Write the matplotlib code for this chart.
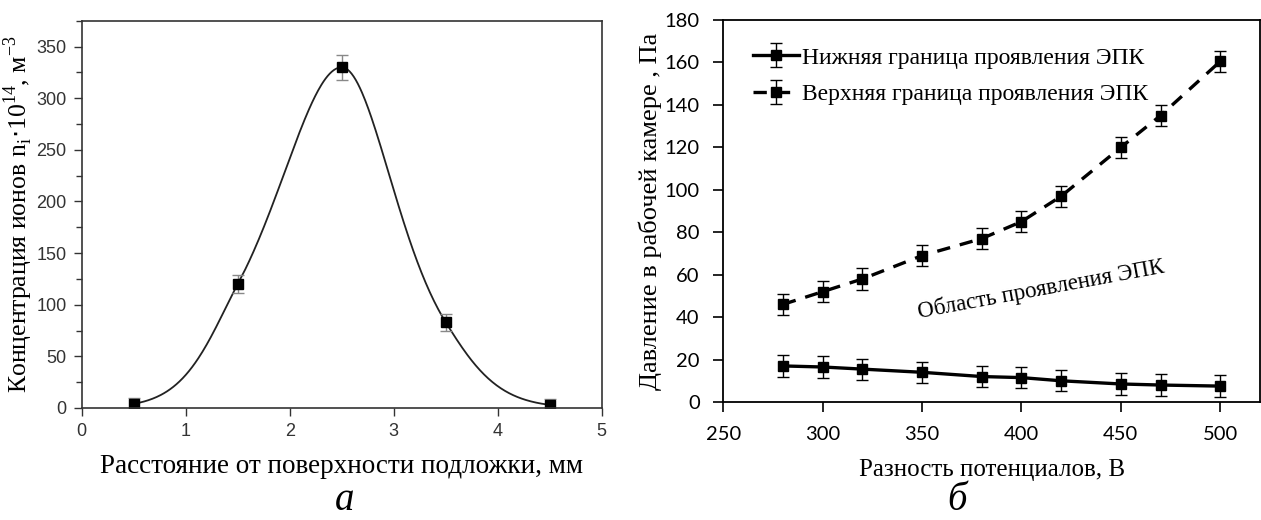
import numpy as np
import matplotlib.pyplot as plt

# (а) ion concentration vs distance from substrate surface
dist = [0.5, 1.5, 2.5, 3.5, 4.5]
conc = [4, 120, 330, 83, 3]
conc_err = [6, 9, 12, 8, 6]

# (б) pressure bounds vs potential difference
volt = [280, 300, 320, 350, 380, 400, 420, 450, 470, 500]
p_low = [17, 16.5, 15.5, 14, 12, 11.5, 10, 8.5, 8, 7.5]
p_high = [46, 52, 58, 69, 77, 85, 97, 120, 135, 160.5]
p_err = [5] * len(volt)

serif = ['Liberation Serif', 'DejaVu Serif']


def pchip(x, y, xs):
    # shape-preserving piecewise cubic Hermite curve through (x, y)
    x = np.asarray(x, float)
    y = np.asarray(y, float)
    h = np.diff(x)
    delta = np.diff(y) / h
    n = len(x)
    d = np.zeros(n)
    for k in range(1, n - 1):
        if delta[k - 1] * delta[k] > 0:
            w1 = 2 * h[k] + h[k - 1]
            w2 = h[k] + 2 * h[k - 1]
            d[k] = (w1 + w2) / (w1 / delta[k - 1] + w2 / delta[k])

    def end(h0, h1, d0, d1):
        v = ((2 * h0 + h1) * d0 - h0 * d1) / (h0 + h1)
        if np.sign(v) != np.sign(d0):
            return 0.0
        if np.sign(d0) != np.sign(d1) and abs(v) > abs(3 * d0):
            return 3 * d0
        return v

    d[0] = end(h[0], h[1], delta[0], delta[1])
    d[-1] = end(h[-1], h[-2], delta[-1], delta[-2])
    idx = np.clip(np.searchsorted(x, xs) - 1, 0, n - 2)
    t = (xs - x[idx]) / h[idx]
    hk = h[idx]
    h00 = 2 * t ** 3 - 3 * t ** 2 + 1
    h10 = t ** 3 - 2 * t ** 2 + t
    h01 = -2 * t ** 3 + 3 * t ** 2
    h11 = t ** 3 - t ** 2
    return h00 * y[idx] + h10 * hk * d[idx] + h01 * y[idx + 1] + h11 * hk * d[idx + 1]


fig = plt.figure(figsize=(12.61, 5.2), dpi=100)

# ---- left panel ----
ax1 = fig.add_axes([0.0648, 0.2154, 0.4124, 0.7446])
xs = np.linspace(dist[0], dist[-1], 400)
ax1.plot(xs, np.exp(pchip(dist, np.log(conc), xs)), color='#222222', lw=1.3)
ax1.errorbar(dist, conc, yerr=conc_err, fmt='s', color='black', ms=6.5,
             ecolor='#888888', elinewidth=1, capsize=4, capthick=1)
ax1.set_xlim(0, 5)
ax1.set_ylim(0, 375)
ax1.set_xticks(range(6))
ax1.set_yticks(range(0, 351, 50))
ax1.set_yticks(range(25, 376, 50), minor=True)
ax1.tick_params(direction='out', length=6, width=1, pad=5, labelsize=13,
                labelcolor='#333333', colors='#333333')
ax1.tick_params(which='minor', length=4, width=1, colors='#333333')
for lab in ax1.get_xticklabels() + ax1.get_yticklabels():
    lab.set_family(['Liberation Sans', 'DejaVu Sans'])
for s in ax1.spines.values():
    s.set_color('#333333')
    s.set_linewidth(1.2)
ax1.set_xlabel('Расстояние от поверхности подложки, мм', family=serif, fontsize=19.5)
ax1.xaxis.set_label_coords(0.5, -0.118)
ax1.set_ylabel(r'Концентрация ионов n$_\mathregular{i}$$\cdot$10$^\mathregular{14}$, м$^\mathregular{-3}$',
               family=serif, fontsize=18.5)
ax1.yaxis.set_label_coords(-0.09, 0.5)

# ---- right panel ----
ax2 = fig.add_axes([0.5736, 0.2269, 0.4256, 0.7346])
ax2.errorbar(volt, p_low, yerr=p_err, fmt='-s', color='black', lw=2.4, ms=7.5,
             elinewidth=1, capsize=4, capthick=1,
             label='Нижняя граница проявления ЭПК')
ax2.errorbar(volt, p_high, yerr=p_err, fmt='--s', color='black', lw=2.4, ms=7.5,
             dashes=(4, 3), elinewidth=1, capsize=4, capthick=1,
             label='Верхняя граница проявления ЭПК')
ax2.set_xlim(250, 520)
ax2.set_ylim(0, 180)
ax2.set_xticks(range(250, 501, 50))
ax2.set_yticks(range(0, 181, 20))
ax2.tick_params(direction='out', length=7, width=1.2, pad=10, labelsize=14.5)
for lab in ax2.get_xticklabels() + ax2.get_yticklabels():
    lab.set_family(['Lato', 'DejaVu Sans'])
for s in ax2.spines.values():
    s.set_linewidth(1.3)
ax2.set_xlabel('Разность потенциалов, В', family=serif, fontsize=18)
ax2.xaxis.set_label_coords(0.5, -0.148)
ax2.set_ylabel('Давление в рабочей камере , Па', family=serif, fontsize=19)
ax2.yaxis.set_label_coords(-0.114, 0.5)
ax2.text(410, 53, 'Область проявления ЭПК', family=serif, fontsize=16.5,
         rotation=10.5, ha='center', va='center')
leg = ax2.legend(loc='upper left', bbox_to_anchor=(0.016, 0.985), frameon=False,
                 numpoints=1, handlelength=1.95, handletextpad=0.1,
                 labelspacing=0.65, prop={'family': serif, 'size': 17})

# panel letters
fig.text(0.2736, 0.02, 'а', family=serif, style='italic', fontsize=28,
         ha='center', va='baseline')
fig.text(0.759, 0.02, 'б', family=serif, style='italic', fontsize=28,
         ha='center', va='baseline')

fig.savefig('out.png', dpi=100)
